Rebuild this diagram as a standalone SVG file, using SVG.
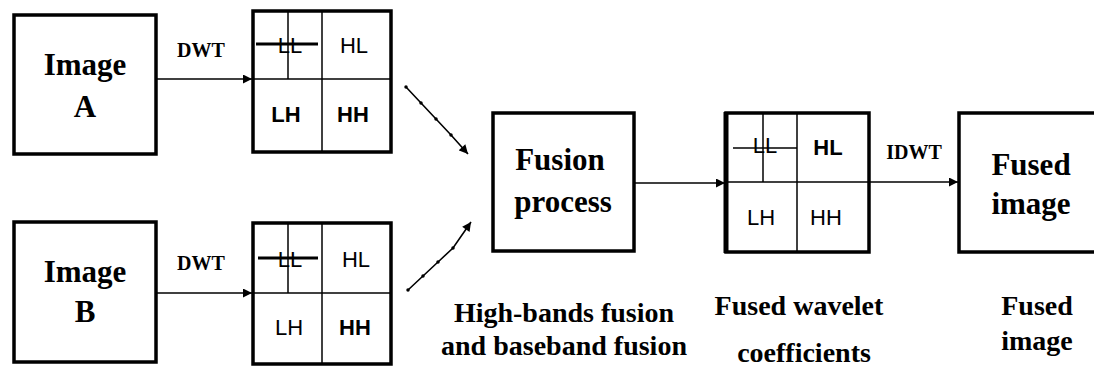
<svg xmlns="http://www.w3.org/2000/svg" width="1094" height="374" viewBox="0 0 1094 374">
<defs>
<marker id="ah" viewBox="0 0 10 10" refX="10" refY="5" markerWidth="10" markerHeight="9" markerUnits="userSpaceOnUse" orient="auto"><path d="M0,0 L10,5 L0,10 z" fill="#000"/></marker>
<marker id="dot" viewBox="0 0 4 4" refX="2" refY="2" markerWidth="3.5" markerHeight="3.5" markerUnits="userSpaceOnUse"><circle cx="2" cy="2" r="2" fill="#000"/></marker>
<style>
.box{fill:#fff;stroke:#000;stroke-width:3.5}
.grid{fill:#fff;stroke:#000;stroke-width:3.5}
.in{stroke:#000;stroke-width:1.5;fill:none}
.ll{stroke:#000;stroke-width:3;fill:none}
.t{font-family:"Liberation Serif","Times New Roman",serif;font-weight:bold;fill:#000;text-anchor:middle}
.big{font-size:31px}
.lab{font-size:28px}
.dwt{font-size:20px}
.s{font-family:"Liberation Sans",Arial,sans-serif;font-size:22px;fill:#000;text-anchor:middle}
.b{font-weight:bold}
.c{stroke:#000;stroke-width:1.6;fill:none}
</style>
</defs>
<rect width="1094" height="374" fill="#fff"/>

<g id="imageA">
<rect class="box" x="14" y="15" width="142" height="139"/>
<text class="t big" x="85" y="75">Image</text>
<text class="t big" x="85" y="117">A</text>
</g>

<g id="imageB">
<rect class="box" x="14" y="222" width="142" height="140"/>
<text class="t big" x="85" y="282">Image</text>
<text class="t big" x="85" y="322">B</text>
</g>

<g id="gridA">
<rect class="grid" x="253" y="11" width="138" height="141"/>
<line class="in" x1="253" y1="79" x2="391" y2="79"/>
<line class="in" x1="322" y1="11" x2="322" y2="152"/>
<line class="in" x1="288" y1="11" x2="288" y2="79" stroke="#555" stroke-width="2"/>
<line class="ll" x1="256" y1="44" x2="318" y2="44"/>
<text class="s" x="290" y="53">LL</text>
<text class="s" x="354" y="53">HL</text>
<text class="s b" x="286" y="122">LH</text>
<text class="s b" x="353" y="122">HH</text>
</g>

<g id="gridB">
<rect class="grid" x="253" y="223" width="138" height="141"/>
<line class="in" x1="253" y1="293" x2="391" y2="293"/>
<line class="in" x1="322" y1="223" x2="322" y2="364"/>
<line class="in" x1="288" y1="223" x2="288" y2="293"/>
<line class="ll" x1="258" y1="258" x2="318" y2="258"/>
<text class="s" x="290" y="267">LL</text>
<text class="s" x="356" y="267">HL</text>
<text class="s" x="289" y="335">LH</text>
<text class="s b" x="355" y="335">HH</text>
</g>

<g id="fusion">
<rect class="box" x="493" y="113" width="141" height="138"/>
<text class="t big" x="560" y="170">Fusion</text>
<text class="t big" x="563" y="212">process</text>
</g>

<g id="fusedGrid">
<rect class="grid" x="726" y="113" width="143" height="139"/>
<line x1="726" y1="112" x2="726" y2="253" stroke="#000" stroke-width="5"/>
<line class="in" x1="726" y1="182" x2="869" y2="182"/>
<line class="in" x1="797" y1="113" x2="797" y2="252"/>
<line class="in" x1="763" y1="113" x2="763" y2="182"/>
<line class="in" x1="733" y1="148" x2="797" y2="148"/>
<text class="s" x="765" y="153">LL</text>
<text class="s b" x="828" y="155">HL</text>
<text class="s" x="761" y="225">LH</text>
<text class="s" x="826" y="225">HH</text>
</g>

<g id="fusedImage">
<rect class="box" x="959" y="113" width="145" height="139"/>
<text class="t big" x="1031" y="175">Fused</text>
<text class="t big" x="1031" y="214">image</text>
</g>

<g id="connectors">
<line class="c" x1="156" y1="79" x2="252" y2="79" marker-end="url(#ah)"/>
<line class="c" x1="156" y1="293" x2="252" y2="293" marker-end="url(#ah)"/>
<path class="c" d="M406,87 L421,103 L436,119 L451,135 L468,154" marker-start="url(#dot)" marker-mid="url(#dot)" marker-end="url(#ah)"/>
<path class="c" d="M408,290 L423,276 L438,262 L453,248 L471,222" marker-start="url(#dot)" marker-mid="url(#dot)" marker-end="url(#ah)"/>
<line class="c" x1="634" y1="183" x2="725" y2="183" marker-end="url(#ah)"/>
<line class="c" x1="869" y1="182" x2="958" y2="182" marker-end="url(#ah)"/>
<text class="t dwt" x="201" y="57">DWT</text>
<text class="t dwt" x="201" y="270">DWT</text>
<text class="t dwt" x="914" y="159">IDWT</text>
</g>

<g id="captions">
<text class="t lab" x="564" y="322">High-bands fusion</text>
<text class="t lab" x="564" y="355">and baseband fusion</text>
<text class="t lab" x="799" y="315">Fused wavelet</text>
<text class="t lab" x="804" y="362">coefficients</text>
<text class="t lab" x="1037" y="315">Fused</text>
<text class="t lab" x="1037" y="350">image</text>
</g>
</svg>
